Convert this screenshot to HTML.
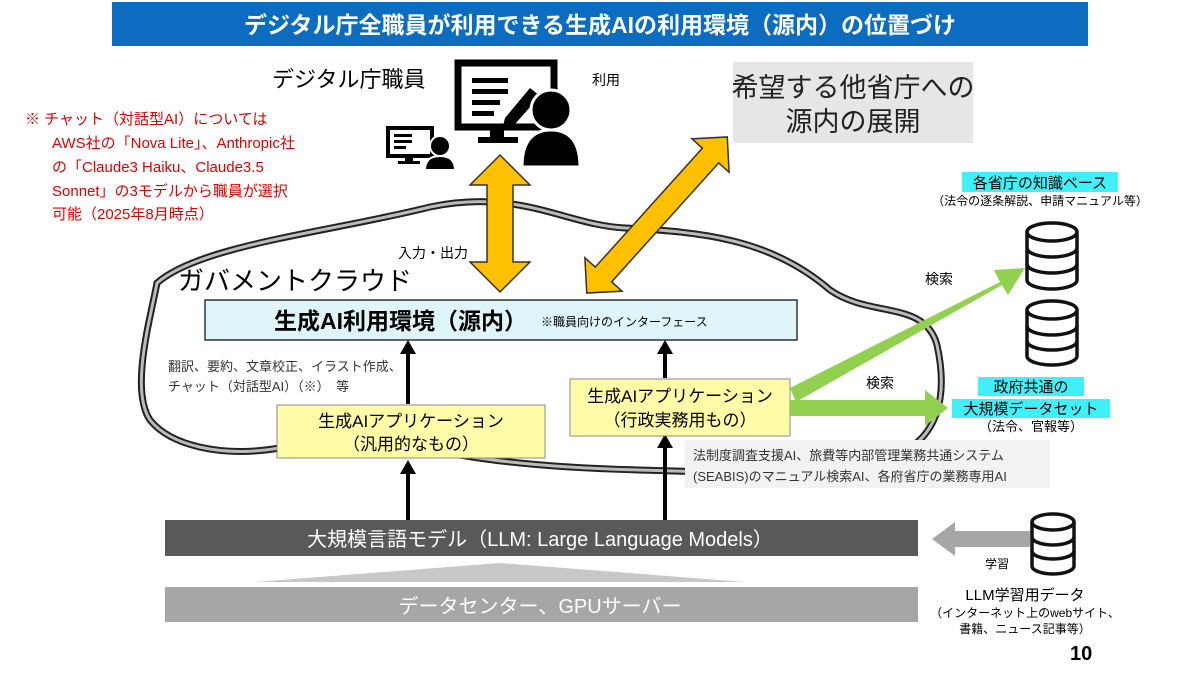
<!DOCTYPE html>
<html><head><meta charset="utf-8"><style>
body{margin:0;width:1200px;height:675px;background:#fff;overflow:hidden;font-family:"Liberation Sans","Noto Sans CJK JP",sans-serif;}
</style></head><body>
<svg width="1200" height="675" xmlns="http://www.w3.org/2000/svg" font-family="Liberation Sans, Noto Sans CJK JP, sans-serif">
<rect x="112" y="2" width="976" height="44" fill="#0b6cc0"/>
<text x="600" y="33" text-anchor="middle" fill="#fff" font-size="23" font-weight="bold">デジタル庁全職員が利用できる生成AIの利用環境（源内）の位置づけ</text>
<text x="272" y="87" font-size="22">デジタル庁職員</text>
<text x="592" y="85" font-size="14">利用</text>
<rect x="458" y="63" width="96" height="64" fill="none" stroke="#000" stroke-width="7"/>
<rect x="490" y="127" width="14" height="12" fill="#000"/>
<rect x="478" y="137" width="40" height="6" fill="#000"/>
<rect x="472" y="78" width="36" height="5" fill="#000"/><rect x="472" y="89" width="36" height="5" fill="#000"/><rect x="472" y="100" width="28" height="5" fill="#000"/><rect x="472" y="111" width="22" height="5" fill="#000"/>
<path d="M505 118 L530 88 L540 96 L515 124 L503 126Z" fill="#000"/>
<circle cx="551" cy="110" r="20" fill="#000" stroke="#fff" stroke-width="3"/>
<path d="M522 167 Q522 130 551 130 Q580 130 580 167Z" fill="#000" stroke="#fff" stroke-width="3"/>
<rect x="388" y="128" width="44" height="28" fill="none" stroke="#000" stroke-width="4"/>
<rect x="405" y="156" width="8" height="6" fill="#000"/><rect x="398" y="161" width="22" height="3" fill="#000"/>
<rect x="394" y="134" width="18" height="3" fill="#000"/><rect x="394" y="140" width="18" height="3" fill="#000"/><rect x="394" y="146" width="12" height="3" fill="#000"/>
<circle cx="440" cy="146" r="10" fill="#000" stroke="#fff" stroke-width="2"/>
<path d="M425 170 Q425 156 440 156 Q455 156 455 170Z" fill="#000" stroke="#fff" stroke-width="2"/>
<g fill="#e00000" font-size="15">
<text x="25" y="124">※  チャット（対話型AI）については</text>
<text x="52" y="148">AWS社の「Nova Lite」、Anthropic社</text>
<text x="52" y="172">の「Claude3 Haiku、Claude3.5</text>
<text x="52" y="196">Sonnet」の3モデルから職員が選択</text>
<text x="52" y="219">可能（2025年8月時点）</text>
</g>
<rect x="733" y="62" width="240" height="81" fill="#e6e6e6"/>
<text x="853" y="97" text-anchor="middle" font-size="27" fill="#222">希望する他省庁への</text>
<text x="853" y="131" text-anchor="middle" font-size="27" fill="#222">源内の展開</text>
<g fill="none">
<path id="cl" d="M157 283 C200 245 330 232 430 207 C520 188 565 225 625 228 C700 232 770 238 830 290 C870 318 925 300 937 345 C948 395 940 440 890 458 C820 478 720 472 640 470 C560 468 500 462 460 455 C400 445 330 440 280 448 C220 458 170 445 150 420 C130 390 150 320 157 283Z" stroke="#222" stroke-width="7"/>
<path d="M157 283 C200 245 330 232 430 207 C520 188 565 225 625 228 C700 232 770 238 830 290 C870 318 925 300 937 345 C948 395 940 440 890 458 C820 478 720 472 640 470 C560 468 500 462 460 455 C400 445 330 440 280 448 C220 458 170 445 150 420 C130 390 150 320 157 283Z" stroke="#bbb" stroke-width="3"/>
</g>
<text x="178" y="290" font-size="26">ガバメントクラウド</text>
<text x="398" y="258" font-size="14">入力・出力</text>
<path d="M500 155 L530 185 L513 185 L513 262 L530 262 L500 292 L470 262 L487 262 L487 185 L470 185Z" fill="#ffc000" stroke="#333" stroke-width="1.5"/>
<g transform="translate(657,215) rotate(-48)">
<path d="M-105 0 L-80 -25 L-80 -11 L80 -11 L80 -25 L105 0 L80 25 L80 11 L-80 11 L-80 25Z" fill="#ffc000" stroke="#333" stroke-width="1.5"/>
</g>
<rect x="205" y="300" width="592" height="40" fill="#def5fa" stroke="#333" stroke-width="1.5"/>
<text x="274" y="329" font-size="23" font-weight="bold">生成AI利用環境（源内）</text>
<text x="541" y="326" font-size="12">※職員向けのインターフェース</text>
<g stroke="#000" stroke-width="4">
<line x1="408" y1="404" x2="408" y2="352"/><line x1="665" y1="378" x2="665" y2="352"/>
<line x1="408" y1="522" x2="408" y2="474"/><line x1="665" y1="522" x2="665" y2="446"/>
</g>
<g fill="#000">
<path d="M400 354 L408 340 L416 354Z"/><path d="M657 354 L665 340 L673 354Z"/>
<path d="M400 474 L408 460 L416 474Z"/><path d="M657 448 L665 434 L673 448Z"/>
</g>
<text x="168" y="371" font-size="13" fill="#333">翻訳、要約、文章校正、イラスト作成、</text>
<text x="168" y="391" font-size="13" fill="#333">チャット（対話型AI）（※）　等</text>
<rect x="277" y="405" width="268" height="53" fill="#fffba6" stroke="#888"/>
<text x="411" y="427" text-anchor="middle" font-size="17">生成AIアプリケーション</text>
<text x="411" y="450" text-anchor="middle" font-size="17">（汎用的なもの）</text>
<rect x="570" y="379" width="220" height="57" fill="#fffba6" stroke="#888"/>
<text x="680" y="402" text-anchor="middle" font-size="17">生成AIアプリケーション</text>
<text x="680" y="426" text-anchor="middle" font-size="17">（行政実務用もの）</text>
<rect x="685" y="440" width="365" height="48" fill="#f2f2f2"/>
<text x="693" y="460" font-size="13" fill="#333">法制度調査支援AI、旅費等内部管理業務共通システム</text>
<text x="693" y="481" font-size="13" fill="#333">(SEABIS)のマニュアル検索AI、各府省庁の業務専用AI</text>
<path d="M790 388 L1000 282 L994 270 L1025 268 L1008 295 L1002 285 L796 402Z" fill="#92d050"/>
<path d="M790 400 L925 400 L925 390 L948 408 L925 426 L925 416 L790 416Z" fill="#92d050"/>
<text x="925" y="284" font-size="14">検索</text>
<text x="866" y="388" font-size="14">検索</text>
<g fill="#fff" stroke="#111" stroke-width="3.5">
<path d="M1027 232 L1027 280 A25 9 0 0 0 1077 280 L1077 232"/><ellipse cx="1052" cy="232" rx="25" ry="9"/>
<path d="M1027 248 A25 9 0 0 0 1077 248 M1027 264 A25 9 0 0 0 1077 264" fill="none"/>
<path d="M1027 310 L1027 356 A25 9 0 0 0 1077 356 L1077 310"/><ellipse cx="1052" cy="310" rx="25" ry="9"/>
<path d="M1027 326 A25 9 0 0 0 1077 326 M1027 341 A25 9 0 0 0 1077 341" fill="none"/>
<path d="M1032 522 L1032 566 A21 8 0 0 0 1074 566 L1074 522"/><ellipse cx="1053" cy="522" rx="21" ry="8"/>
<path d="M1032 537 A21 8 0 0 0 1074 537 M1032 551 A21 8 0 0 0 1074 551" fill="none"/>
</g>
<rect x="962" y="172" width="156" height="20" fill="#3ff0f8"/>
<text x="1040" y="188" text-anchor="middle" font-size="15">各省庁の知識ベース</text>
<text x="1040" y="205" text-anchor="middle" font-size="12">（法令の逐条解説、申請マニュアル等）</text>
<rect x="978" y="377" width="106" height="19" fill="#3ff0f8"/>
<text x="1031" y="392" text-anchor="middle" font-size="15">政府共通の</text>
<rect x="952" y="399" width="158" height="19" fill="#3ff0f8"/>
<text x="1031" y="414" text-anchor="middle" font-size="15">大規模データセット</text>
<text x="1031" y="431" text-anchor="middle" font-size="13">（法令、官報等）</text>
<rect x="165" y="520" width="753" height="36" fill="#595959"/>
<text x="540" y="546" text-anchor="middle" font-size="20" fill="#fff">大規模言語モデル（LLM: Large Language Models）</text>
<path d="M255 582 L500 563 L745 582Z" fill="#c8c8c8"/>
<rect x="165" y="587" width="753" height="35" fill="#a6a6a6"/>
<text x="540" y="613" text-anchor="middle" font-size="20" fill="#fff">データセンター、GPUサーバー</text>
<path d="M1030 531 L955 531 L955 522 L932 539 L955 556 L955 547 L1030 547Z" fill="#a6a6a6"/>
<text x="985" y="568" font-size="12">学習</text>
<text x="1025" y="600" text-anchor="middle" font-size="15">LLM学習用データ</text>
<text x="1025" y="617" text-anchor="middle" font-size="12">（インターネット上のwebサイト、</text>
<text x="1025" y="633" text-anchor="middle" font-size="12">書籍、ニュース記事等）</text>
<text x="1070" y="660" font-size="20" font-weight="bold">10</text>
</svg>
</body></html>
